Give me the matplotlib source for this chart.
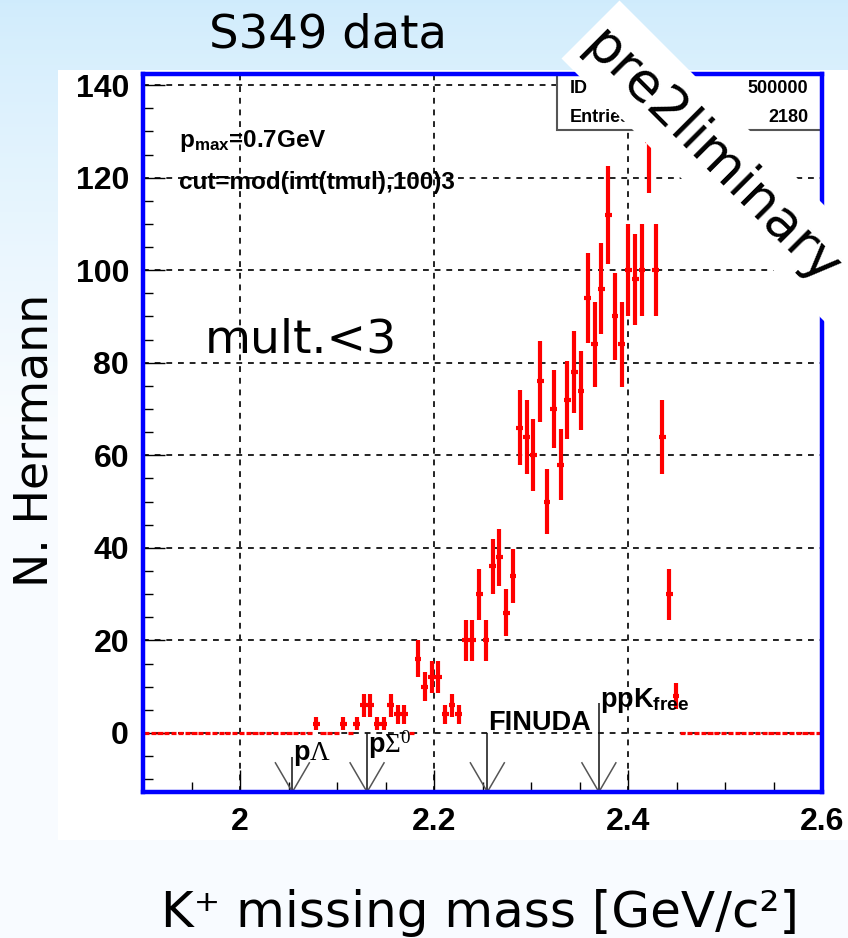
import numpy as np
import matplotlib
matplotlib.use("Agg")
import matplotlib.pyplot as plt
from matplotlib.patches import Rectangle, Polygon
from matplotlib.ticker import MultipleLocator

plt.rcParams["mathtext.fontset"] = "custom"
plt.rcParams["mathtext.rm"] = "Liberation Serif"
plt.rcParams["mathtext.it"] = "Liberation Serif:italic"
plt.rcParams["mathtext.bf"] = "Liberation Sans:bold"
plt.rcParams["mathtext.sf"] = "Liberation Sans"

# ---- histogram: K+ missing mass, 100 bins between 1.9 and 2.6 GeV/c^2 ----
mass_lo, mass_hi, n_bins = 1.9, 2.6, 100
counts = [
    0, 0, 0, 0, 0, 0, 0, 0, 0, 0,
    0, 0, 0, 0, 0, 0, 0, 0, 0, 0,
    0, 0, 0, 0, 0, 2, 0, 0, 0, 2,
    0, 2, 6, 6, 2, 2, 6, 4, 4, 0,
    16, 10, 12, 12, 4, 6, 4, 20, 20, 30,
    20, 36, 38, 26, 34, 66, 64, 60, 76, 50,
    70, 58, 72, 78, 74, 94, 84, 96, 112, 90,
    84, 100, 98, 100, 128, 100, 64, 30, 8, 0,
    0, 0, 0, 0, 0, 0, 0, 0, 0, 0,
    0, 0, 0, 0, 0, 0, 0, 0, 0, 0,
]

# ---- threshold / prediction markers ----
marker_mass = [2.054, 2.131, 2.255, 2.370]
marker_top = [-5.2, 0.0, 0.0, 6.5]
marker_labels = [r"$\mathbf{p}\Lambda$", r"$\mathbf{p}\Sigma^{0}$", "FINUDA",
                 r"ppK$_{\mathbf{free}}$"]
marker_label_y = [-5.9, -4.2, 0.6, 5.6]

stat_names = ["ID", "Entries"]
stat_values = ["500000", "2180"]

W, H = 848, 938
fig = plt.figure(figsize=(W / 100, H / 100), dpi=100)

# slide background: light blue fading to white
bg = fig.add_axes([0, 0, 1, 1], zorder=-10)
grad = np.linspace(0, 1, 256)[:, None]
top_c = np.array([0.815, 0.925, 0.99])
bot_c = np.array([0.975, 0.988, 1.0])
w = np.clip(grad * 2.2, 0, 1) ** 0.8
img = top_c[None, None, :] * (1 - w[..., None]) + bot_c[None, None, :] * w[..., None]
bg.imshow(img, aspect="auto", extent=[0, 1, 0, 1], origin="upper")
bg.add_patch(Rectangle((58 / W, 1 - 840 / H), 790 / W, 770 / H,
                       facecolor="white", edgecolor="none"))
bg.set_xlim(0, 1)
bg.set_ylim(0, 1)
bg.axis("off")

ax = fig.add_axes([143 / W, 1 - 792 / H, 679 / W, 718 / H])
ax.set_facecolor("white")

width = (mass_hi - mass_lo) / n_bins
centers = mass_lo + width * (np.arange(n_bins) + 0.5)
counts = np.asarray(counts, dtype=float)
errors = np.sqrt(counts)
nz = counts > 0

ax.errorbar(centers[nz], counts[nz], yerr=errors[nz], xerr=width / 2,
            fmt="none", ecolor="#ff0000", elinewidth=3.0, capsize=0, zorder=3)
ax.errorbar(centers[~nz], counts[~nz], xerr=width * 0.38,
            fmt="none", ecolor="#ff0000", elinewidth=2.3, capsize=0, zorder=3)

ax.set_xlim(mass_lo, mass_hi)
ax.set_ylim(-12.75, 142.4)

ax.xaxis.set_major_locator(MultipleLocator(0.2))
ax.xaxis.set_minor_locator(MultipleLocator(0.05))
ax.yaxis.set_major_locator(MultipleLocator(20))
ax.yaxis.set_minor_locator(MultipleLocator(5))
ax.tick_params(which="both", direction="in", top=False, right=False,
               color="black", width=1.0)
ax.tick_params(which="major", length=16)
ax.tick_params(which="minor", length=7.5)
ax.tick_params(axis="y", pad=10)
ax.tick_params(axis="x", pad=11)
ax.set_xticks([2.0, 2.2, 2.4, 2.6])
ax.set_xticklabels(["2", "2.2", "2.4", "2.6"])
for lab in ax.get_xticklabels() + ax.get_yticklabels():
    lab.set_fontfamily("Liberation Sans")
    lab.set_fontweight("bold")
    lab.set_fontsize(23)

ax.grid(True, which="major", color="#222222", linestyle=(0, (3, 3)), linewidth=1.4)
ax.set_axisbelow("line")
for s in ax.spines.values():
    s.set_color("#0000ff")
    s.set_linewidth(3.2)
    s.set_zorder(5)

# statistics box
ax.add_patch(Rectangle((0.6097, 0.922), 0.3903, 0.078, transform=ax.transAxes,
                       facecolor="white", edgecolor="#555555", linewidth=1.5,
                       zorder=1.6))
for i, (nm, val) in enumerate(zip(stat_names, stat_values)):
    yy = [0.9805, 0.940][i]
    ax.text(0.629, yy, nm, transform=ax.transAxes, ha="left", va="center",
            fontsize=13, fontweight="bold", family="Liberation Sans", zorder=4)
    ax.text(0.9794, yy, val, transform=ax.transAxes, ha="right", va="center",
            fontsize=13, fontweight="bold", family="Liberation Sans", zorder=4)

# selection info
ax.text(1.937, (733 - 146) / 4.632, r"$\mathbf{p}_{\mathbf{max}}$=0.7GeV",
        ha="left", va="baseline", fontsize=17.5, fontweight="bold",
        family="Liberation Sans", zorder=4)
ax.text(1.937, (733 - 189) / 4.632, "cut=mod(int(tmul),100)3",
        ha="left", va="baseline", fontsize=17.5, fontweight="bold",
        family="Liberation Sans", zorder=4)

# arrows for thresholds
y_bot = -12.75
arm_dx, arm_dy = 0.0175, 6.3
for m, top, lab, ly in zip(marker_mass, marker_top, marker_labels, marker_label_y):
    ax.plot([m, m], [y_bot, top], color="#111111", linewidth=1.1, zorder=4,
            solid_capstyle="butt")
    ax.plot([m - arm_dx, m, m + arm_dx], [y_bot + arm_dy, y_bot, y_bot + arm_dy],
            color="#555555", linewidth=1.1, zorder=4)
    ax.text(m + 0.001, ly, lab, ha="left", va="baseline", fontsize=19.5,
            fontweight="bold", family="Liberation Sans", zorder=4)

# slide texts
fig.text(328 / W, 1 - 35 / H, "S349 data", ha="center", va="center",
         fontsize=33.5, family="DejaVu Sans")
fig.text(35 / W, 1 - 440 / H, "N. Herrmann", ha="center", va="center",
         rotation=90, fontsize=33, family="DejaVu Sans")
fig.text(480 / W, 1 - 913 / H, "K\u207a missing mass [GeV/c\u00b2]", ha="center",
         va="center", fontsize=36, family="DejaVu Sans")
fig.text(205 / W, 1 - 340 / H, "mult.<3", ha="left", va="center",
         fontsize=34, family="DejaVu Sans", zorder=12)

# "preliminary" stamp on a white diagonal band
band_px = [(619.5, 0.5), (561.5, 58.5), (981.5, 478.5), (1039.5, 420.5)]
band = Polygon([(x / W, 1 - y / H) for x, y in band_px], closed=True,
               transform=fig.transFigure, facecolor="white", edgecolor="none",
               zorder=10)
fig.add_artist(band)
fig.text(711 / W, 1 - 157 / H, "pre2liminary", ha="center", va="center",
         rotation=-45, rotation_mode="anchor", fontsize=38.5,
         family="DejaVu Sans", zorder=11)

fig.savefig("out.png", dpi=100)
